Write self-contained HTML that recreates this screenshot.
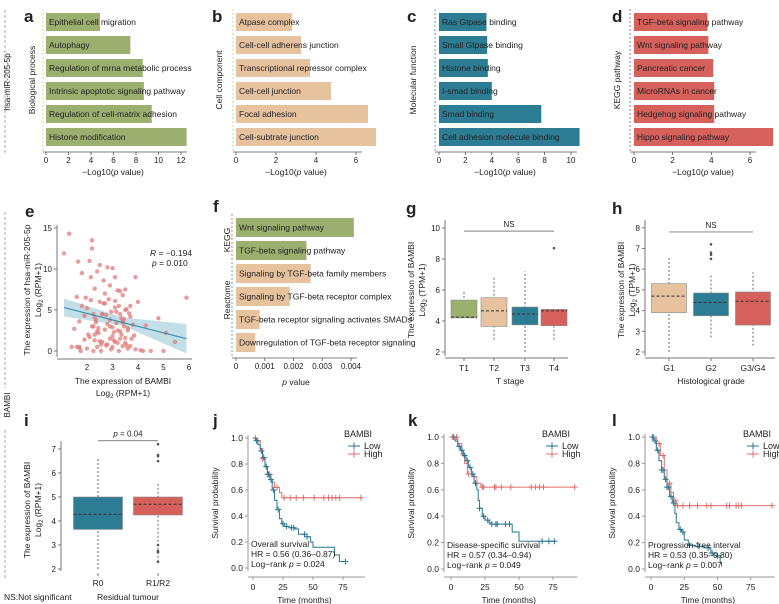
<!DOCTYPE html>
<html><head><meta charset="utf-8"><style>
body{margin:0;background:#fff}
svg{display:block;font-family:"Liberation Sans",sans-serif}
text{fill:#222}
</style></head><body>
<svg id="s" width="779" height="604" viewBox="0 0 779 604">
<g font-weight="bold" font-size="17">
<text x="24" y="22">a</text>
<text x="212" y="22">b</text>
<text x="407" y="22">c</text>
<text x="612" y="22">d</text>
<text x="25" y="217">e</text>
<text x="213" y="212">f</text>
<text x="406" y="214">g</text>
<text x="612" y="214">h</text>
<text x="24" y="426">i</text>
<text x="213" y="426">j</text>
<text x="408" y="426">k</text>
<text x="612" y="426">l</text>
</g>
<line x1="5" y1="10" x2="5" y2="155" stroke="#aaa" stroke-dasharray="3,2"/>
<text transform="translate(10,82) rotate(-90)" text-anchor="middle" font-size="8">hsa-miR-205-5p</text>
<line x1="5" y1="212" x2="5" y2="388" stroke="#aaa" stroke-dasharray="3,2"/>
<line x1="5" y1="430" x2="5" y2="580" stroke="#aaa" stroke-dasharray="3,2"/>
<text transform="translate(10,405) rotate(-90)" text-anchor="middle" font-size="8">BAMBI</text>
<text x="4" y="600" font-size="8.5">NS:Not significant</text>
</svg>
<script>
const S=document.getElementById('s');
function mk(tag,a,name,parent){const e=document.createElementNS('http://www.w3.org/2000/svg',tag);for(const k in a)e.setAttribute(k,a[k]);


(parent||S).appendChild(e);return e;}
function tx(x,y,t,name,o){o=o||{};const e=mk('text',Object.assign({x:x,y:y,'font-size':8.5},o),name);e.textContent=t;return e;}
function rtx(x,y,t,name,fs){const e=mk('text',{transform:`translate(${x},${y}) rotate(-90)`,'text-anchor':'middle','font-size':fs||8.5},name);e.textContent=t;return e;}

// ---- data ----
const aCats=["Epithelial cell migration","Autophagy","Regulation of mrna metabolic process","Intrinsic apoptotic signaling pathway","Regulation of cell-matrix adhesion","Histone modification"];
const aVals=[4.8,7.5,8.6,8.7,9.4,12.5];
const aTicks=[0,2,4,6,8,10,12];
const bCats=["Atpase complex","Cell-cell adherens junction","Transcriptional repressor complex","Cell-cell junction","Focal adhesion","Cell-subtrate junction"];
const bVals=[2.8,3.25,3.7,4.75,6.6,7.0];
const bTicks=[0,2,4,6];
const cCats=["Ras Gtpase binding","Small Gtpase binding","Histone binding","I-smad binding","Smad binding","Cell adhesion molecule binding"];
const cVals=[3.6,3.65,3.7,4.0,7.75,10.65];
const cTicks=[0,2,4,6,8,10];
const dCats=["TGF-beta signaling pathway","Wnt signaling pathway","Pancreatic cancer","MicroRNAs in cancer","Hedgehog signaling pathway","Hippo signaling pathway"];
const dVals=[3.8,3.85,4.1,4.15,4.15,7.2];
const dTicks=[0,2,4,6];
const fCats=["Wnt signaling pathway","TGF-beta signaling pathway","Signaling by TGF-beta family members","Signaling by TGF-beta receptor complex","TGF-beta receptor signaling activates SMADs","Downregulation of TGF-beta receptor signaling"];
const fVals=[0.0041,0.00245,0.0026,0.00187,0.00082,0.00067];
const fTicks=[0,0.001,0.002,0.003,0.004];
const eX=[1.1,1.3,1.4,1.5,1.6,1.65,1.7,1.75,1.8,1.8,1.9,1.95,2.0,2.05,2.1,2.15,2.2,2.2,2.25,2.25,2.3,2.3,2.35,2.4,2.4,2.45,2.5,2.5,2.55,2.6,2.6,2.65,2.7,2.7,2.75,2.8,2.8,2.85,2.9,2.9,2.95,3.0,3.0,3.05,3.1,3.1,3.15,3.2,3.2,3.25,3.3,3.3,3.35,3.4,3.4,3.45,3.5,3.5,3.55,3.6,3.6,3.65,3.7,3.7,3.8,3.85,3.9,3.9,4.0,4.1,4.2,4.3,4.5,4.8,5.0,5.1,5.45,5.9,1.6,1.7,2.0,2.1,2.3,2.35,2.5,2.6,2.7,2.8,2.9,3.0,3.1,3.2,3.3,3.4,3.5,3.6,3.7,3.75,2.2,2.45,2.55,2.9,3.05,3.15,3.35,3.45,2.15,2.65,3.0,3.25,3.55,2.4,2.75,3.1,3.3,3.5,1.9,2.3,2.95,3.4,1.7,2.25,2.8,3.6];
const eY=[11.9,14.3,0.5,2.7,6.6,10.9,0.5,0,9.5,5.5,4.3,6.5,0.3,2.0,11,9,13.5,12.5,4.5,0,7.6,1.3,3.5,9.7,0.5,2.8,10.5,6,0,4.5,1.1,8.6,2.6,5.8,0.7,10.2,3.3,6.3,1.5,8.0,4.8,10.1,0.5,2.3,9.0,6.1,3.4,7.4,1.0,5.5,7.3,2.4,4.0,0.6,6.8,3.0,7.5,1.6,5.1,2.8,0.3,4.6,0.6,5.5,3.2,1.9,9.0,0.2,6.0,0.1,0,3.1,0,4.0,0,2.2,1.1,6.5,0.5,3.6,5.2,1.7,2.0,3.8,1.2,4.5,7.0,0.8,3.0,1.8,5.3,2.5,4.5,3.5,1.0,2.5,4.2,1.5,3.0,2.2,0.8,3.8,1.3,4.8,2.0,3.9,6.2,5.8,2.9,0,0.7,2.4,4.4,1.1,1.5,5.0,1.4,4.1,0.2,3.6,0.4,3.0];
const eFit=[5.3,1.5];
const gCats=["T1","T2","T3","T4"];
const gQ1=[4.2,3.65,3.75,3.7],gMed=[4.25,4.65,4.45,4.65],gQ3=[5.35,5.5,4.9,4.75],gLo=[4.2,2.8,2.0,2.8],gHi=[5.9,6.8,7.2,4.8];
const gTicks=[2,4,6,8,10];
const hCats=["G1","G2","G3/G4"];
const hQ1=[3.9,3.75,3.3],hMed=[4.7,4.4,4.45],hQ3=[5.3,4.85,4.9],hLo=[2.0,2.7,2.3],hHi=[6.6,5.8,5.85];
const hOut=[[],[6.5,6.7,6.8,7.2],[]];
const hTicks=[2,3,4,5,6,7,8];
const iCats=["R0","R1/R2"];
const iQ1=[3.65,4.25],iMed=[4.28,4.7],iQ3=[5.0,5.0],iLo=[2.0,2.3],iHi=[6.6,5.6];
const iOut=[[],[2.3,2.7,2.75,3.0,6.5,6.7,6.75,7.2]];
const iTicks=[2,3,4,5,6,7];
const jLowT=[0,2,4,6,8,10,12,14,16,18,20,22,24,26,30,35,38,45,48,50,68,72,77];
const jLowS=[1,0.98,0.95,0.9,0.85,0.78,0.72,0.68,0.6,0.52,0.45,0.38,0.34,0.32,0.31,0.3,0.26,0.24,0.2,0.16,0.1,0.05,0.05];
const jHighT=[0,3,6,8,10,12,15,18,22,24,90];
const jHighS=[1,0.98,0.92,0.84,0.78,0.72,0.66,0.62,0.58,0.54,0.54];
const jLowC=[3,7,9,11,13,15,17,21,25,28,32,34,43,45,77];
const jHighC=[2,4,8,12,14,20,26,31,36,42,51,59,63,66,69,72,90];
const kLowT=[0,3,5,7,9,11,13,15,17,19,20,21,23,25,28,30,44,45,50,77];
const kLowS=[1,0.97,0.93,0.9,0.86,0.82,0.77,0.72,0.65,0.6,0.52,0.46,0.4,0.37,0.35,0.34,0.34,0.28,0.21,0.21];
const kHighT=[0,5,8,10,12,15,19,22,91];
const kHighS=[1,0.95,0.87,0.8,0.72,0.7,0.65,0.62,0.62];
const kLowC=[2,6,8,10,12,14,16,18,21,24,27,30,33,34,40,43,67,72,76];
const kHighC=[1,4,9,13,17,23,24,32,33,37,44,59,62,65,68,91];
const lLowT=[0,2,4,6,8,10,12,14,16,18,19,21,23,25,28,33,40,45,48,52,53];
const lLowS=[1,0.97,0.9,0.82,0.75,0.68,0.62,0.55,0.5,0.42,0.35,0.3,0.28,0.22,0.18,0.17,0.16,0.12,0.1,0.05,0.02];
const lHighT=[0,4,7,10,12,15,17,19,91];
const lHighS=[1,0.95,0.86,0.75,0.65,0.58,0.52,0.48,0.48];
const lLowC=[1,3,5,8,9,11,12,13,15,17,22,24,29,36,43,46,50];
const lHighC=[2,6,9,14,18,20,24,29,35,42,45,57,59,64,66,68,91];

const GREEN='#9bb06f',TAN='#e7c29f',TEAL='#2c7c94',RED='#d5605c',BLUE='#2a7693',PINK='#e06f6c';

function hbar(p){
  const sx=v=>p.x0+v*p.k;
  mk('line',{x1:p.dash,y1:p.y0-4,x2:p.dash,y2:p.y0+6*p.pitch,stroke:p.dashC,'stroke-dasharray':'2,2'},p.id+'-dashed-axis');
  p.cats.forEach((c,i)=>{
    const y=p.y0+i*p.pitch;
    mk('rect',{x:sx(0),y:y,width:sx(p.vals[i])-sx(0),height:p.h,fill:p.colors?p.colors[i]:p.color},p.id+'-bar-'+i);
    tx(sx(0)+3,y+p.h/2+3,c,p.id+'-bar-label-'+i,{'font-size':8.5,fill:'#222'});
  });
  const ay=p.axisY;
  mk('line',{x1:p.dash,y1:ay,x2:sx(p.ticks[p.ticks.length-1])+6,y2:ay,stroke:'#555','stroke-width':0.8},p.id+'-x-axis');
  p.ticks.forEach(t=>{mk('line',{x1:sx(t),y1:ay,x2:sx(t),y2:ay+3,stroke:'#555','stroke-width':0.8},p.id+'-tick');
    tx(sx(t),ay+11,p.fmt?p.fmt(t):String(t),p.id+'-tick-label',{'text-anchor':'middle','font-size':8});});
}
function xtitle(x,y,name,pre){const e=mk('text',{x:x,y:y,'text-anchor':'middle','font-size':8.5},name);e.innerHTML=pre;return e;}

hbar({id:'a',cats:aCats,vals:aVals,ticks:aTicks,x0:46,k:11.25,y0:13,pitch:23,h:18,color:GREEN,dash:43,dashC:'#d8cf8a',axisY:152});
xtitle(113,175,'a-x-title','−Log10(<tspan font-style="italic">p</tspan> value)');
rtx(35,80,'Biological process','a-y-title');
hbar({id:'b',cats:bCats,vals:bVals,ticks:bTicks,x0:236,k:20,y0:13,pitch:23,h:18,color:TAN,dash:233,dashC:'#d8cf8a',axisY:152});
xtitle(296,175,'b-x-title','−Log10(<tspan font-style="italic">p</tspan> value)');
rtx(222,80,'Cell component','b-y-title');
hbar({id:'c',cats:cCats,vals:cVals,ticks:cTicks,x0:439,k:13.2,y0:13,pitch:23,h:18,color:TEAL,dash:435,dashC:'#5aa7c0',axisY:152});
xtitle(505,175,'c-x-title','−Log10(<tspan font-style="italic">p</tspan> value)');
rtx(416,80,'Molecular function','c-y-title');
hbar({id:'d',cats:dCats,vals:dVals,ticks:dTicks,x0:634,k:19.33,y0:13,pitch:23,h:18,color:RED,dash:630,dashC:'#e07070',axisY:152});
xtitle(703,175,'d-x-title','−Log10(<tspan font-style="italic">p</tspan> value)');
rtx(620,80,'KEGG pathway','d-y-title');

hbar({id:'f',cats:fCats,vals:fVals,ticks:fTicks,x0:236,k:28750,y0:218,pitch:23,h:19,colors:[GREEN,GREEN,TAN,TAN,TAN,TAN],dash:232,dashC:'#5aa7c0',axisY:358,fmt:t=>t===0?'0':t.toFixed(3)});
mk('line',{x1:232,y1:214,x2:232,y2:262,stroke:'#e07070','stroke-dasharray':'2,2'},'f-kegg-dash');
xtitle(296,385,'f-x-title','<tspan font-style="italic">p</tspan> value');
rtx(230,240,'KEGG','f-kegg-label');rtx(230,300,'Reactome','f-reactome-label');

(function(){
  const sx=v=>87+(v-2)*25.5, sy=v=>351-v*8.2;
  const band=`M${sx(1.1)},${sy(6.4)} L${sx(3.4)},${sy(4.1)} L${sx(5.9)},${sy(3.3)} L${sx(5.9)},${sy(-0.3)} L${sx(3.4)},${sy(3.1)} L${sx(1.1)},${sy(4.2)} Z`;
  mk('path',{d:band,fill:'#b7d8e2',opacity:0.85},'e-confidence-band');
  const n=Math.min(eX.length,eY.length);
  for(let i=0;i<n;i++)mk('circle',{cx:sx(eX[i]),cy:sy(eY[i]),r:2.2,fill:'#e07b7b',opacity:0.75},'e-point');
  mk('line',{x1:sx(1.1),y1:sy(eFit[0]),x2:sx(5.9),y2:sy(eFit[1]),stroke:'#3d8fae','stroke-width':1.2},'e-regression-line');
  mk('line',{x1:57,y1:225,x2:57,y2:357,stroke:'#777'},'e-y-axis');
  mk('line',{x1:57,y1:359,x2:192,y2:359,stroke:'#777'},'e-x-axis');
  [0,5,10,15].forEach(t=>{tx(52,sy(t)+3,String(t),'e-y-tick-label',{'text-anchor':'end','font-size':8});mk('line',{x1:54,y1:sy(t),x2:57,y2:sy(t),stroke:'#777'},'e-y-tick');});
  [2,3,4,5,6].forEach(t=>{tx(sx(t),370,String(t),'e-x-tick-label',{'text-anchor':'middle','font-size':8});});
  const r=mk('text',{x:150,y:256,'font-size':8.5},'e-r-value');r.innerHTML='<tspan font-style="italic">R</tspan> = −0.194';
  const p=mk('text',{x:152,y:266,'font-size':8.5},'e-p-value');p.innerHTML='<tspan font-style="italic">p</tspan> = 0.010';
  tx(123,384,'The expression of BAMBI','e-x-title',{'text-anchor':'middle'});
  const l=mk('text',{x:123,y:396,'text-anchor':'middle','font-size':8.5},'e-x-title-2');l.innerHTML='Log<tspan font-size="6" dy="2">2</tspan><tspan dy="-2"> (RPM+1)</tspan>';
  rtx(30,290,'The expression of hsa-miR-205-5p','e-y-title');
  const l2=mk('text',{transform:'translate(41,290) rotate(-90)','text-anchor':'middle','font-size':8.5},'e-y-title-2');l2.innerHTML='Log<tspan font-size="6" dy="2">2</tspan><tspan dy="-2"> (RPM+1)</tspan>';
})();

function box(p){
  const sy=v=>p.yb-(v-p.ymin)*p.k;
  mk('line',{x1:p.ax,y1:sy(p.ticks[p.ticks.length-1])-8,x2:p.ax,y2:p.axY-2,stroke:'#777'},p.id+'-y-axis');
  if(p.xaxis)mk('line',{x1:p.ax,y1:p.axY,x2:p.xend,y2:p.axY,stroke:'#777'},p.id+'-x-axis');
  p.ticks.forEach(t=>{mk('line',{x1:p.ax-3,y1:sy(t),x2:p.ax,y2:sy(t),stroke:'#777'},p.id+'-y-tick');
    tx(p.ax-5,sy(t)+3,String(t),p.id+'-y-tick-label',{'text-anchor':'end','font-size':8});});
  p.cats.forEach((c,i)=>{const cx=p.xs[i],w=p.w;
    mk('line',{x1:cx,y1:sy(p.lo[i]),x2:cx,y2:sy(p.hi[i]),stroke:'#666','stroke-dasharray':'2,2'},p.id+'-whisker-'+i);
    mk('rect',{x:cx-w/2,y:sy(p.q3[i]),width:w,height:sy(p.q1[i])-sy(p.q3[i]),fill:p.colors[i],stroke:'#888','stroke-width':0.6},p.id+'-box-'+i);
    mk('line',{x1:cx-w/2,y1:sy(p.med[i]),x2:cx+w/2,y2:sy(p.med[i]),stroke:'#333','stroke-dasharray':'3,2'},p.id+'-median-'+i);
    (p.out&&p.out[i]||[]).forEach(o=>mk('circle',{cx:cx,cy:sy(o),r:1.3,fill:'#555'},p.id+'-outlier'));
    mk('line',{x1:cx,y1:p.axY,x2:cx,y2:p.axY+3,stroke:'#777'},p.id+'-x-tick');
    tx(cx,p.axY+13,c,p.id+'-x-tick-label',{'text-anchor':'middle','font-size':8.5});
  });
  const sy2=sy(p.sigV);
  mk('line',{x1:p.xs[0],y1:sy2,x2:p.xs[p.xs.length-1],y2:sy2,stroke:'#999','stroke-width':1.2},p.id+'-sig-line');
  const t=mk('text',{x:(p.xs[0]+p.xs[p.xs.length-1])/2,y:sy2-4,'text-anchor':'middle','font-size':8,fill:p.sigC||'#222'},p.id+'-sig-label');t.innerHTML=p.sig;
  return sy;
}
box({id:'g',cats:gCats,q1:gQ1,med:gMed,q3:gQ3,lo:gLo,hi:gHi,out:[[],[],[],[8.7]],ticks:gTicks,ymin:2,yb:352,k:15.5,ax:445,axY:358,xaxis:true,xend:568,xs:[464,494,525,554],w:26,colors:[GREEN,TAN,TEAL,RED],sigV:9.8,sig:'NS'});
tx(510,384,'T stage','g-x-title',{'text-anchor':'middle'});
rtx(414,290,'The expression of BAMBI','g-y-title');
(function(){const l=mk('text',{transform:'translate(425,290) rotate(-90)','text-anchor':'middle','font-size':8.5},'g-y-title-2');l.innerHTML='Log<tspan font-size="6" dy="2">2</tspan><tspan dy="-2"> (TPM+1)</tspan>';})();
box({id:'h',cats:hCats,q1:hQ1,med:hMed,q3:hQ3,lo:hLo,hi:hHi,out:hOut,ticks:hTicks,ymin:2,yb:352,k:20.7,ax:645,axY:358,xaxis:true,xend:775,xs:[669,711,753],w:35,colors:[TAN,TEAL,RED],sigV:7.8,sig:'NS'});
tx(711,384,'Histological grade','h-x-title',{'text-anchor':'middle'});
rtx(624,290,'The expression of BAMBI','h-y-title');
(function(){const l=mk('text',{transform:'translate(635,290) rotate(-90)','text-anchor':'middle','font-size':8.5},'h-y-title-2');l.innerHTML='Log<tspan font-size="6" dy="2">2</tspan><tspan dy="-2"> (TPM+1)</tspan>';})();
box({id:'i',cats:iCats,q1:iQ1,med:iMed,q3:iQ3,lo:iLo,hi:iHi,out:iOut,ticks:iTicks,ymin:2,yb:569,k:24,ax:61,axY:573,xaxis:false,xs:[98,158],w:49,colors:[TEAL,RED],sigV:7.35,sig:'<tspan font-style="italic">p</tspan> = 0.04',sigC:'#e06060'});
tx(128,600,'Residual tumour','i-x-title',{'text-anchor':'middle'});
rtx(30,510,'The expression of BAMBI','i-y-title');
(function(){const l=mk('text',{transform:'translate(41,510) rotate(-90)','text-anchor':'middle','font-size':8.5},'i-y-title-2');l.innerHTML='Log<tspan font-size="6" dy="2">2</tspan><tspan dy="-2"> (RPM+1)</tspan>';})();

function km(p){
  const sx=v=>p.x0+v*p.k, sy=v=>p.y0+(1-v)*p.h;
  mk('line',{x1:p.ax,y1:sy(1)-3,x2:p.ax,y2:sy(0)+3,stroke:'#999'},p.id+'-y-axis');
  mk('line',{x1:p.ax,y1:p.axY,x2:sx(90)+4,y2:p.axY,stroke:'#999'},p.id+'-x-axis');
  [0,0.2,0.4,0.6,0.8,1.0].forEach(t=>{mk('line',{x1:p.ax-3,y1:sy(t),x2:p.ax,y2:sy(t),stroke:'#999'},p.id+'-y-tick');
    tx(p.ax-5,sy(t)+3,t.toFixed(1),p.id+'-y-tick-label',{'text-anchor':'end','font-size':8.5});});
  [0,25,50,75].forEach(t=>{mk('line',{x1:sx(t),y1:p.axY,x2:sx(t),y2:p.axY+3,stroke:'#999'},p.id+'-x-tick');
    tx(sx(t),p.axY+13,String(t),p.id+'-x-tick-label',{'text-anchor':'middle','font-size':8.5});});
  function curve(T,Sv,C,col,nm){
    let d=`M${sx(T[0])},${sy(Sv[0])}`;
    for(let i=1;i<T.length;i++)d+=` H${sx(T[i])} V${sy(Sv[i])}`;
    mk('path',{d:d,fill:'none',stroke:col,'stroke-width':1},p.id+'-'+nm+'-curve');
    C.forEach(c=>{let s=Sv[0];for(let i=0;i<T.length;i++)if(T[i]<=c)s=Sv[i];
      mk('path',{d:`M${sx(c)},${sy(s)-3}v6M${sx(c)-3},${sy(s)}h6`,stroke:col,'stroke-width':1},p.id+'-'+nm+'-censor');});
  }
  curve(p.hT,p.hS,p.hC,PINK,'high');
  curve(p.lT,p.lS,p.lC,BLUE,'low');
  tx(p.lx,p.ly,'BAMBI',p.id+'-legend-title',{'font-size':9});
  [[BLUE,'Low'],[PINK,'High']].forEach((L,i)=>{const y=p.ly+12+i*8;
    mk('path',{d:`M${p.lx+4},${y-3}h12M${p.lx+10},${y-6.5}v7`,stroke:L[0],'stroke-width':1},p.id+'-legend-key-'+L[1].toLowerCase());
    tx(p.lx+20,y,L[1],p.id+'-legend-'+L[1].toLowerCase(),{'font-size':9});});
  tx(p.ax+3,sy(0)-21,p.title,p.id+'-annot-title',{'font-size':8.5});
  tx(p.ax+3,sy(0)-11,p.hr,p.id+'-annot-hr',{'font-size':8.5});
  const e=mk('text',{x:p.ax+3,y:sy(0)-1,'font-size':8.5},p.id+'-annot-logrank');e.innerHTML='Log−rank <tspan font-style="italic">p</tspan> = '+p.pv;
  tx((p.ax+sx(90))/2,p.axY+26,'Time (months)',p.id+'-x-title',{'text-anchor':'middle'});
  rtx(p.ax-30,sy(0.5),'Survival probability',p.id+'-y-title');
}
km({id:'j',x0:253,k:1.2,y0:438,h:130,ax:248,axY:577,lT:jLowT,lS:jLowS,lC:jLowC,hT:jHighT,hS:jHighS,hC:jHighC,lx:344,ly:437,title:'Overall survival',hr:'HR = 0.56 (0.36–0.87)',pv:'0.024'});
km({id:'k',x0:451,k:1.36,y0:437,h:132,ax:444,axY:577,lT:kLowT,lS:kLowS,lC:kLowC,hT:kHighT,hS:kHighS,hC:kHighC,lx:542,ly:437,title:'Disease-specific survival',hr:'HR = 0.57 (0.34–0.94)',pv:'0.049'});
km({id:'l',x0:651,k:1.33,y0:437,h:132,ax:645,axY:577,lT:lLowT,lS:lLowS,lC:lLowC,hT:lHighT,hS:lHighS,hC:lHighC,lx:743,ly:437,title:'Progression-free interval',hr:'HR = 0.53 (0.35–0.80)',pv:'0.007'});
</script>
</body></html>
